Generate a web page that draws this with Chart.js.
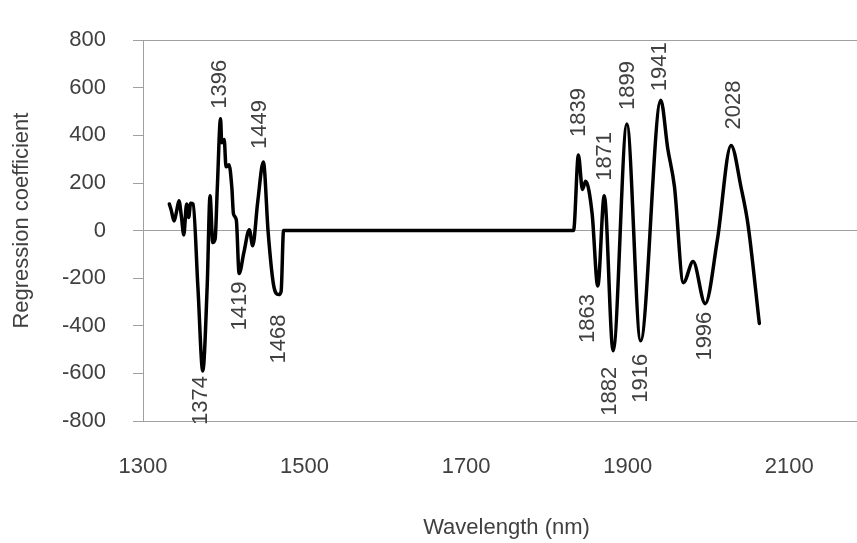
<!DOCTYPE html>
<html>
<head>
<meta charset="utf-8">
<script src="https://cdn.jsdelivr.net/npm/chart.js@4/dist/chart.umd.min.js"></script>
<style>
  html, body { margin: 0; padding: 0; background: #ffffff; overflow: hidden; width: 857px; height: 543px; }
  #wrap { width: 870px; height: 543px; }
</style>
</head>
<body>
<div id="wrap"><canvas id="chart" width="870" height="543"></canvas></div>
<script>
// PLS regression coefficients across the NIR wavelength range
const wavelengths = [
  1332.6, 1335, 1338.5, 1341.5, 1344.5, 1347.5, 1350.5, 1354, 1356.5, 1359, 1362,
  1368, 1374, 1379.5, 1383, 1386.4, 1389.3, 1392, 1396, 1397.5, 1400.5, 1402.8,
  1406.5, 1410, 1412, 1415.5, 1419, 1425, 1431.6, 1435.8, 1442, 1449, 1455,
  1461.5, 1468, 1471, 1474, 1833,
  1839, 1844, 1848, 1856, 1863, 1871, 1882, 1899, 1916, 1941, 1949.6, 1957.9,
  1969, 1981, 1996, 2011, 2028, 2040.6, 2049, 2063
];
const coefficients = [
  112, 85, 40, 80, 125, 60, -18, 112, 55, 115, 112,
  -240, -590, -230, 146, -50, -35, 180, 470, 369, 383, 268,
  277, 180, 70, 45, -180, -90, 4, -64, 120, 288, -10,
  -226, -269, -255, 0, 0,
  318, 173, 207, 71, -233, 146, -505, 448, -463, 548, 345, 185,
  -219, -130, -307, -40, 358, 178, 25, -390
];

// Wavelengths of the annotated extremes and which side of the curve they sit on
const peakLabels = [1374, 1396, 1419, 1449, 1468, 1839, 1863, 1871, 1882, 1899, 1916, 1941, 1996, 2028];
const peakSides  = ['below', 'above', 'below', 'above', 'below', 'above', 'below', 'above', 'below', 'above', 'below', 'above', 'below', 'above'];

const xTickValues = [1300, 1500, 1700, 1900, 2100];
const yTickValues = [-800, -600, -400, -200, 0, 200, 400, 600, 800];
const yAxisTitle = 'Regression coefficient';
const xAxisTitle = 'Wavelength (nm)';

// Small per-label nudges (dx, gap from the curve in px)
const labelNudge = {
  1374: [-2, 5], 1396: [-1, 10], 1419: [1, 8], 1449: [-3, 13], 1468: [0, 20],
  1839: [1, 18], 1863: [-10, 8], 1871: [1, 15], 1882: [-3, 16], 1899: [1, 14],
  1916: [0, 13], 1941: [-1, 9], 1996: [0, 8], 2028: [3, 16]
};

const TEXT = '#404040';
const AXIS = '#a0a0a0';
const FONT = 'Liberation Sans, Arial, sans-serif';

const points = wavelengths.map((w, i) => ({ x: w, y: coefficients[i] }));

// Rotated wavelength labels beside each marked extreme, plus the vertical axis title
const peakLabelPlugin = {
  id: 'peakLabels',
  afterDatasetsDraw(chart) {
    const { ctx, scales: { x, y } } = chart;
    ctx.save();
    ctx.font = '22px ' + FONT;
    ctx.fillStyle = TEXT;
    ctx.textBaseline = 'middle';
    peakLabels.forEach((w, i) => {
      const idx = wavelengths.indexOf(w);
      const px = x.getPixelForValue(w);
      const py = y.getPixelForValue(coefficients[idx]);
      const [dx, gap] = labelNudge[w] || [0, 8];
      ctx.save();
      if (peakSides[i] === 'above') {
        ctx.translate(px + dx, py - gap);
        ctx.rotate(-Math.PI / 2);
        ctx.textAlign = 'left';
      } else {
        ctx.translate(px + dx, py + gap);
        ctx.rotate(-Math.PI / 2);
        ctx.textAlign = 'right';
      }
      ctx.fillText(String(w), 0, 0);
      ctx.restore();
    });

    // vertical axis title, a little above the plot's mid-height
    const midY = (chart.chartArea.top + chart.chartArea.bottom) / 2 - 10;
    ctx.save();
    ctx.translate(22, midY);
    ctx.rotate(-Math.PI / 2);
    ctx.textAlign = 'center';
    ctx.fillText(yAxisTitle, 0, 0);
    ctx.restore();
    ctx.restore();
  }
};

new Chart(document.getElementById('chart'), {
  type: 'line',
  data: {
    datasets: [{
      data: points,
      borderColor: '#000000',
      borderWidth: 3.5,
      pointRadius: 0,
      pointHoverRadius: 0,
      fill: false,
      cubicInterpolationMode: 'monotone',
      borderJoinStyle: 'round',
      borderCapStyle: 'round'
    }]
  },
  options: {
    responsive: false,
    animation: false,
    events: [],
    layout: { padding: 0 },
    plugins: {
      legend: { display: false },
      tooltip: { enabled: false }
    },
    scales: {
      x: {
        type: 'linear',
        min: 1300,
        max: 2200,
        afterBuildTicks(scale) { scale.ticks = xTickValues.map(v => ({ value: v })); },
        afterFit(scale) { scale.height = 122; },
        grid: { display: false, drawTicks: false },
        border: { display: false },
        ticks: {
          padding: 33,
          color: TEXT,
          font: { family: FONT, size: 22 },
          maxRotation: 0,
          autoSkip: false,
          callback: v => String(v)
        },
        title: {
          display: true,
          text: xAxisTitle,
          color: TEXT,
          font: { family: FONT, size: 22 },
          padding: { top: 0, bottom: 2 }
        }
      },
      y: {
        type: 'linear',
        min: -800,
        max: 800,
        afterBuildTicks(scale) { scale.ticks = yTickValues.map(v => ({ value: v })); },
        afterFit(scale) { scale.width = 143; },
        grid: {
          color: c => (c.tick && [800, 0, -800].includes(c.tick.value)) ? AXIS : 'rgba(0,0,0,0)',
          tickColor: AXIS,
          tickLength: 10,
          lineWidth: 1
        },
        border: { display: true, color: AXIS, width: 1 },
        ticks: {
          padding: 27,
          color: TEXT,
          font: { family: FONT, size: 22 },
          autoSkip: false,
          callback: v => String(v)
        },
        title: { display: false }
      }
    }
  },
  plugins: [peakLabelPlugin]
});
</script>
</body>
</html>
